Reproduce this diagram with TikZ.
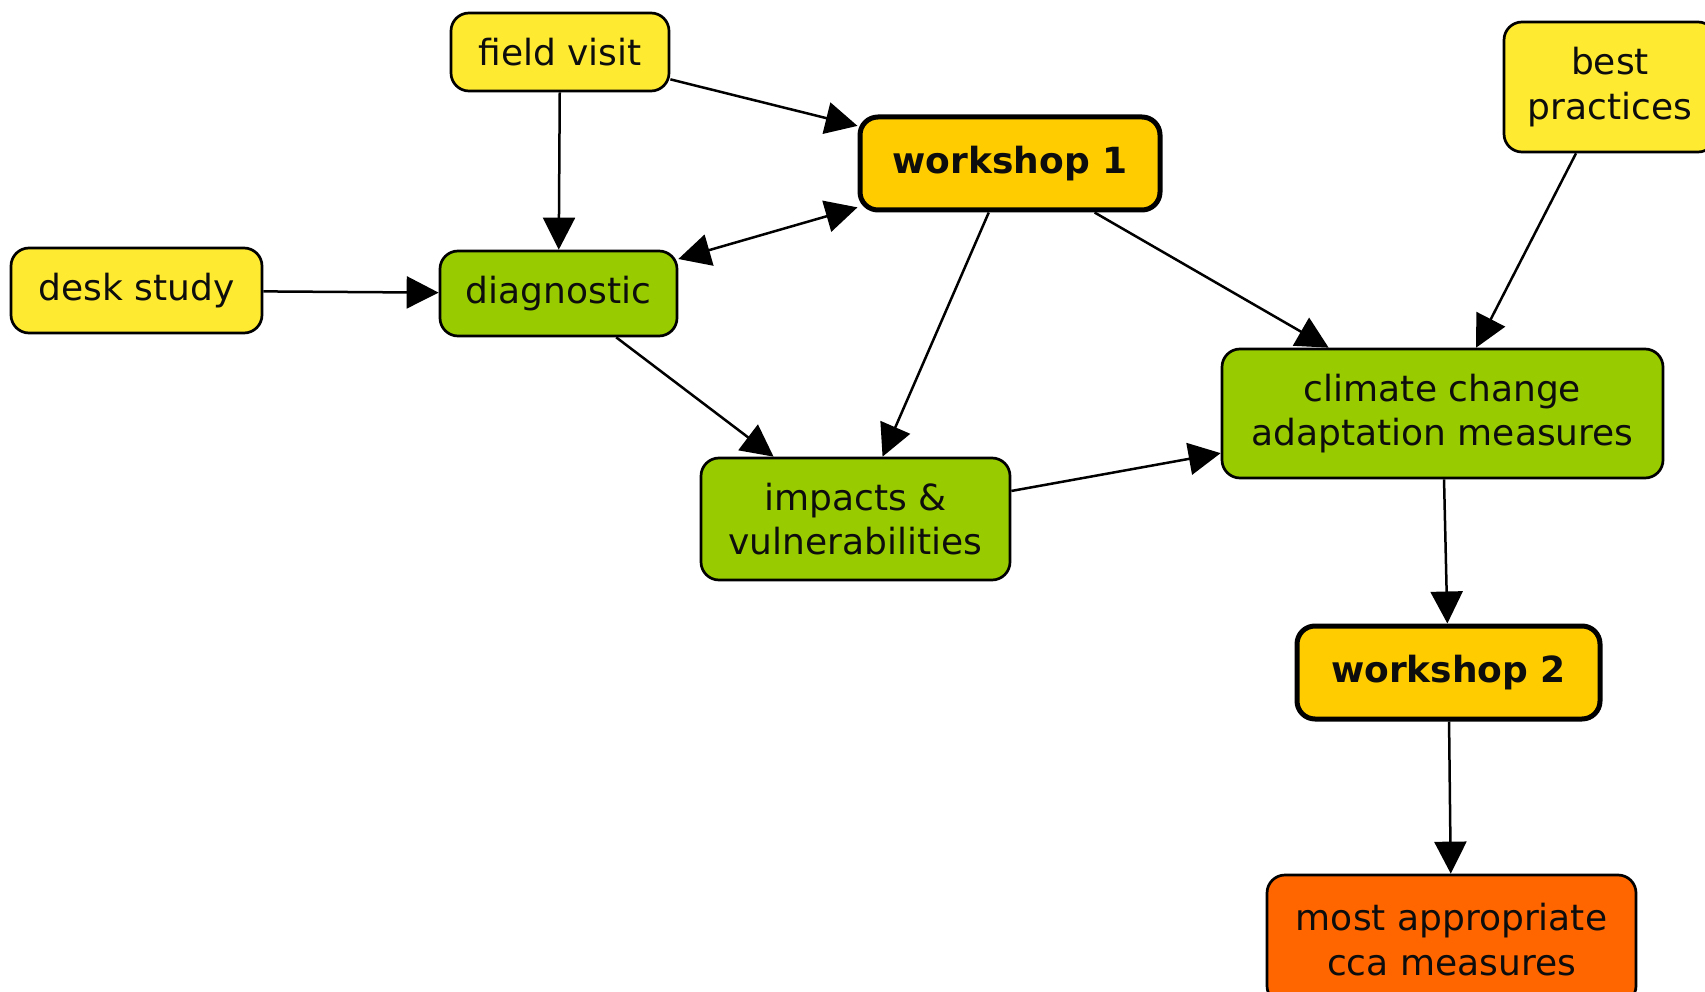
\documentclass[tikz,border=0pt]{standalone}
\usepackage{fontspec}
\setmainfont{DejaVu Sans}
\usetikzlibrary{arrows.meta}
\definecolor{cmyellow}{RGB}{255,234,50}
\definecolor{cmgold}{RGB}{255,204,0}
\definecolor{cmgreen}{RGB}{153,204,0}
\definecolor{cmorange}{RGB}{255,102,0}
\tikzset{
  concept/.style={draw=black, line width=2.7pt, rounded corners=18pt,
    inner sep=0pt, align=center, text=black!95,
    font=\fontsize{36}{44.6}\selectfont},
  workshop/.style={concept, fill=cmgold, line width=5pt,
    font=\fontsize{36}{44.6}\selectfont\bfseries},
  link/.style={line width=2.5pt, -{Triangle[length=32pt,width=32pt]}},
  biglink/.style={line width=2.5pt, {Triangle[length=32pt,width=32pt]}-{Triangle[length=32pt,width=32pt]}}
}
\begin{document}
\begin{tikzpicture}[x=1pt,y=-1pt]
\useasboundingbox (0,0) rectangle (1705,992);
\clip (0,0) rectangle (1705,992);

% concepts
\node[concept, fill=cmyellow, minimum width=218pt, minimum height=78pt] (fv) at (560,52) {field visit};
\node[workshop, minimum width=300pt, minimum height=93pt] (ws1) at (1010,163.5) {workshop 1};
\node[concept, fill=cmyellow, minimum width=212pt, minimum height=130pt] (bp) at (1610,87) {best\\practices};
\node[concept, fill=cmyellow, minimum width=251pt, minimum height=85pt] (ds) at (136.5,290.5) {desk study};
\node[concept, fill=cmgreen, minimum width=237pt, minimum height=85pt] (dg) at (558.5,293.5) {diagnostic};
\node[concept, fill=cmgreen, minimum width=309pt, minimum height=122pt] (iv) at (855.5,519) {impacts \&\\vulnerabilities};
\node[concept, fill=cmgreen, minimum width=441pt, minimum height=129pt] (cc) at (1442.5,413.5) {climate change\\adaptation measures};
\node[workshop, minimum width=303pt, minimum height=93pt] (ws2) at (1448.5,672.5) {workshop 2};
\node[concept, fill=cmorange, minimum width=369pt, minimum height=129pt] (mo) at (1451.5,939.5) {most appropriate\\cca measures};

% connectors
\draw[link] (fv) -- (ws1);
\draw[link] (fv) -- (dg);
\draw[link] (ds) -- (dg);
\draw[biglink] (dg) -- (ws1);
\draw[link] (ws1) -- (iv);
\draw[link] (ws1) -- (cc);
\draw[link] (bp) -- (cc);
\draw[link] (dg) -- (iv);
\draw[link] (iv) -- (cc);
\draw[link] (cc) -- (ws2);
\draw[link] (ws2) -- (mo);
\end{tikzpicture}
\end{document}
